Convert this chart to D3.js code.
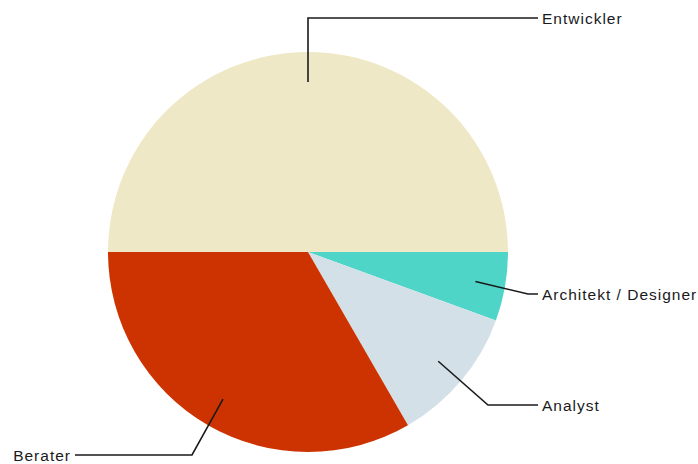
<!DOCTYPE html>
<html>
<head>
<meta charset="utf-8">
<script src="https://cdn.jsdelivr.net/npm/d3@7"></script>
<style>
  html, body { margin: 0; padding: 0; background: #fff; }
  svg { display: block; }
</style>
</head>
<body>
<svg id="chart" width="698" height="464"></svg>
<script>
const categories = ["Entwickler", "Architekt / Designer", "Analyst", "Berater"];
const values = [9, 1, 2, 6];
const colors = ["#EEE8C7", "#4ED5C8", "#D3E0E8", "#CC3300"];

const W = 698, H = 464;
const cx = 308, cy = 252, R = 200, rAnchor = 170;

const svg = d3.select("#chart");
const g = svg.append("g").attr("transform", `translate(${cx},${cy})`);

const data = categories.map((c, i) => ({ name: c, value: values[i], color: colors[i] }));

const pie = d3.pie().value(d => d.value).sort(null)
  .startAngle(-Math.PI / 2).endAngle(3 * Math.PI / 2);
const arcs = pie(data);

const arc = d3.arc().innerRadius(0).outerRadius(R);
const anchorArc = d3.arc().innerRadius(rAnchor).outerRadius(rAnchor);

g.selectAll("path.slice").data(arcs).enter().append("path")
  .attr("class", "slice")
  .attr("d", arc)
  .attr("fill", d => d.data.color);

// leader line layout (elbow positions relative to chart centre)
const labelX = { right: 538 - cx, left: 75 - cx };
const elbow = {
  "Entwickler": { x: 0, y: 18 - cy },
  "Architekt / Designer": { x: 528 - cx, y: 294 - cy },
  "Analyst": { x: 488 - cx, y: 405 - cy },
  "Berater": { x: 192 - cx, y: 455 - cy }
};

arcs.forEach(a => {
  const [ax, ay] = anchorArc.centroid(a);
  const e = elbow[a.data.name];
  const mid = (a.startAngle + a.endAngle) / 2;
  const right = Math.sin(mid) >= -1e-6;
  const ex = a.data.name === "Entwickler" ? ax : e.x;
  const endX = right ? labelX.right : labelX.left;
  g.append("polyline")
    .attr("points", [[ax, ay], [ex, e.y], [endX, e.y]].map(p => p.join(",")).join(" "))
    .attr("fill", "none")
    .attr("stroke", "#1a1a1a")
    .attr("stroke-width", 1.6);
  g.append("text")
    .attr("x", right ? endX + 4 : endX - 4)
    .attr("y", e.y)
    .attr("dy", "0.36em")
    .attr("text-anchor", right ? "start" : "end")
    .attr("font-family", "'Liberation Sans', Arial, sans-serif")
    .attr("font-size", "15.5px")
    .attr("letter-spacing", "1px")
    .attr("fill", "#1a1a1a")
    .text(a.data.name);
});
</script>
</body>
</html>
